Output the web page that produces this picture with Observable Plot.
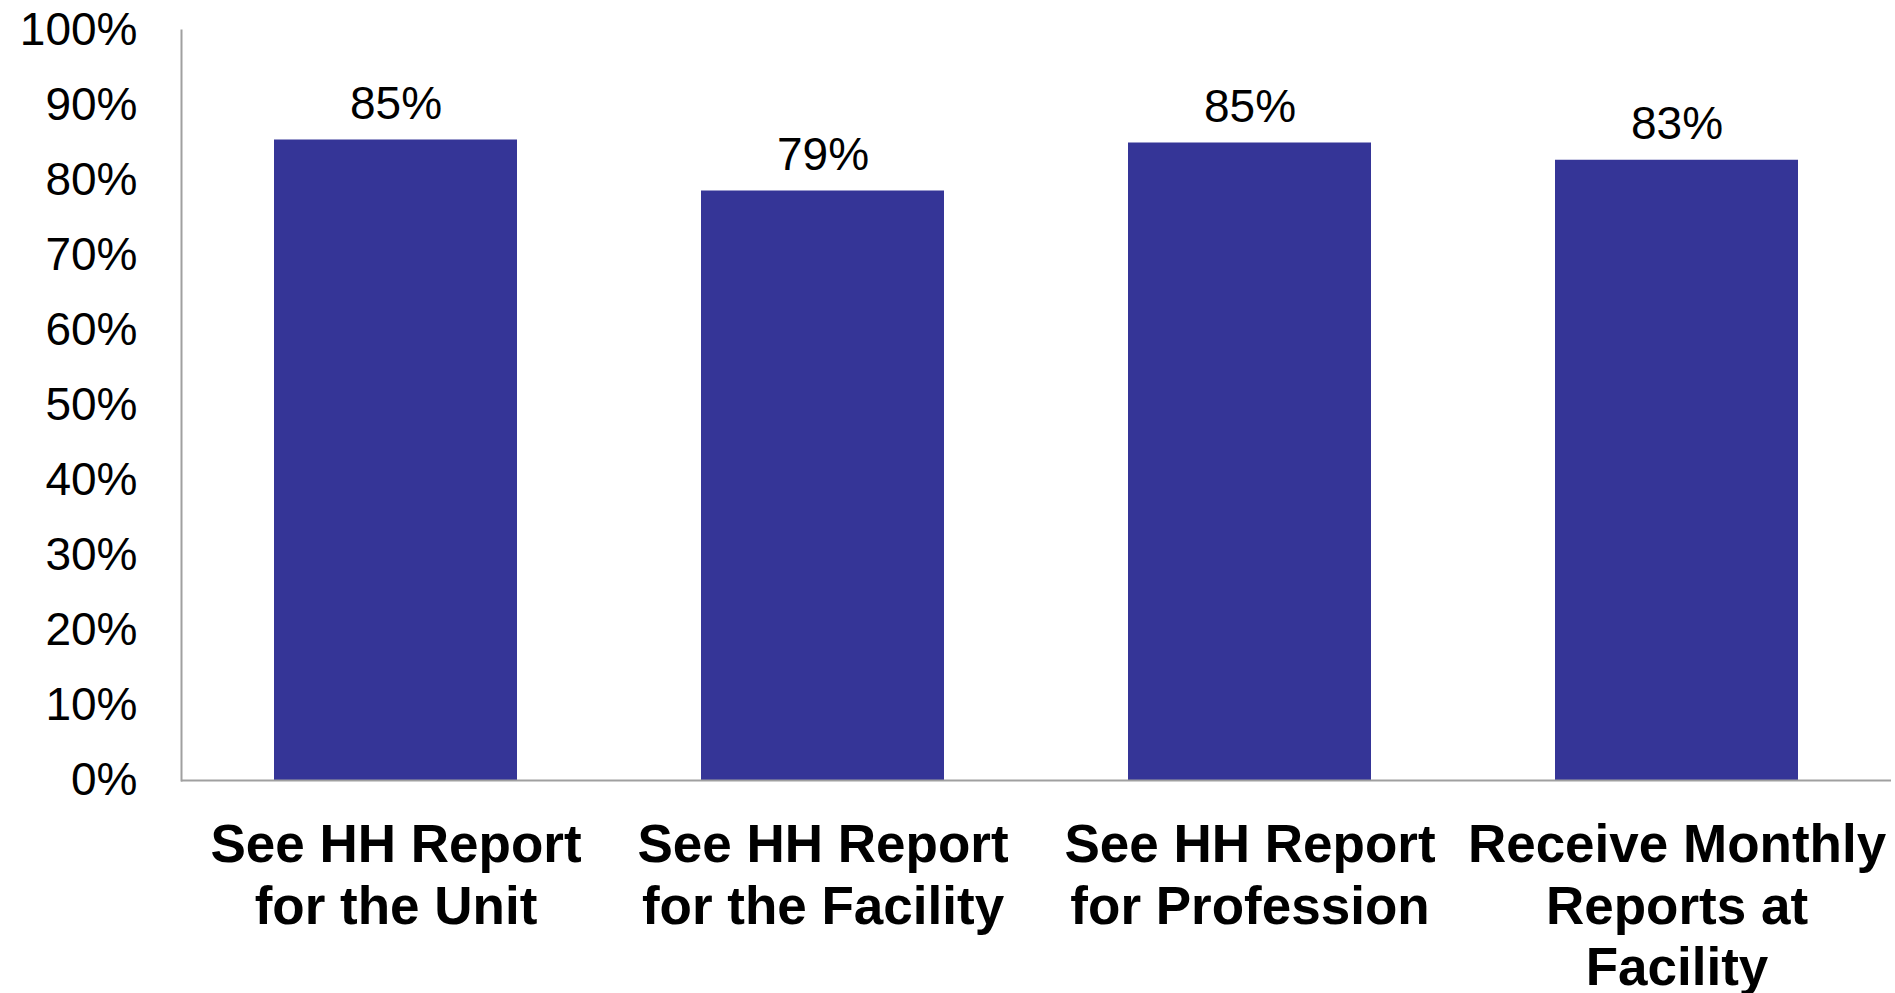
<!DOCTYPE html>
<html>
<head>
<meta charset="utf-8">
<script src="https://cdn.jsdelivr.net/npm/d3@7"></script>
<script src="https://cdn.jsdelivr.net/npm/@observablehq/plot@0.6"></script>
<style>
  html, body { margin: 0; padding: 0; background: #fff; }
  #chart svg { display: block; font-family: "Liberation Sans", Arial, sans-serif; }
</style>
</head>
<body>
<div id="chart"></div>
<script>
const categories = [
  "See HH Report\nfor the Unit",
  "See HH Report\nfor the Facility",
  "See HH Report\nfor Profession",
  "Receive Monthly\nReports at\nFacility"
];
const values = [85.4, 78.6, 85.0, 82.7];
const yTicks = [0, 10, 20, 30, 40, 50, 60, 70, 80, 90, 100];

const data = categories.map((c, i) => ({category: c, value: values[i]}));

const chart = Plot.plot({
  width: 1895,
  height: 993,
  marginLeft: 181,
  marginRight: 4,
  marginTop: 30,
  marginBottom: 213,
  style: {fontFamily: "'Liberation Sans', Arial, sans-serif", color: "#000", background: "#fff", overflow: "visible"},
  x: {domain: categories, paddingInner: 0.43, paddingOuter: 0.215, label: null},
  y: {domain: [0, 100], label: null},
  marks: [
    Plot.barY(data, {x: "category", y: "value", fill: "#353597"}),
    Plot.text(data, {
      x: "category", y: "value",
      text: d => Math.round(d.value) + "%",
      lineAnchor: "bottom", dy: -21,
      fontSize: 46, fill: "#000"
    }),
    Plot.frame({anchor: "left", stroke: "#a0a0a0", strokeWidth: 2}),
    Plot.ruleY([0], {stroke: "#a0a0a0", strokeWidth: 2}),
    Plot.axisY({
      ticks: yTicks, tickSize: 0, tickPadding: 44,
      tickFormat: d => d + "%", fontSize: 46, label: null
    }),
    Plot.axisX({
      tickSize: 0, tickPadding: 38, fontSize: 53, fontWeight: "bold",
      lineHeight: 1.16, label: null
    })
  ]
});
document.getElementById("chart").append(chart);
</script>
</body>
</html>
